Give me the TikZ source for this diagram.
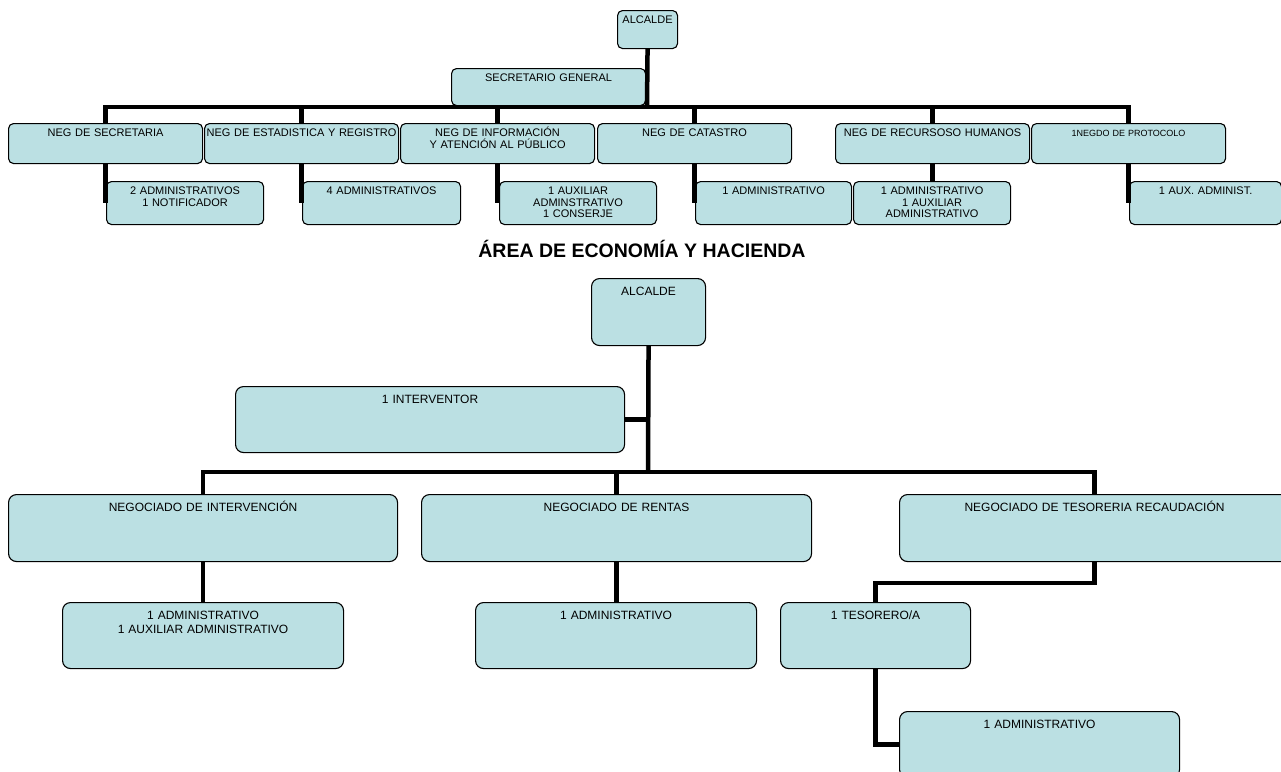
\documentclass[tikz,border=0pt]{standalone}
\usepackage{fontspec}
\setmainfont{Liberation Sans}
\definecolor{celeste}{RGB}{187,224,227}

\begin{document}
\begin{tikzpicture}[x=1pt,y=-1pt,
  unit/.style 2 args={draw,line width=1.1pt,fill=celeste,rounded corners=5pt,
    anchor=north west,align=center,inner xsep=1pt,inner ysep=4pt,
    text width={#1pt-2pt},text height=9pt,text depth={#2pt-17pt},
    font=\fontsize{11}{11.7}\selectfont},
  bigunit/.style 2 args={unit={#1}{#2},rounded corners=8pt,inner ysep=7pt,
    text height=10pt,text depth={#2pt-24pt},font=\fontsize{12}{14}\selectfont},
  wire/.style={line width=4.5pt}]
  \clip (0,0) rectangle (1281,771);

  \node[unit={60}{38}] (alc1) at (617,10) {ALCALDE};
  \node[unit={194}{37}] (sec) at (451,68) {SECRETARIO GENERAL};
  \node[unit={194}{40}] (nsec) at (8,123) {NEG DE SECRETARIA};
  \node[unit={194}{40}] (nest) at (204,123) {NEG DE ESTADISTICA Y REGISTRO};
  \node[unit={194}{40}] (ninf) at (400,123) {NEG DE INFORMACIÓN\\Y ATENCIÓN AL PÚBLICO};
  \node[unit={194}{40}] (ncat) at (597,123) {NEG DE CATASTRO};
  \node[unit={194}{40}] (nrrhh) at (835,123) {NEG DE RECURSOSO HUMANOS};
  \node[unit={194}{40},font=\fontsize{9}{10}\selectfont] (nprot) at (1031,123) {1NEGDO DE PROTOCOLO};
  \node[unit={157}{43}] (ssec) at (106,181) {2 ADMINISTRATIVOS\\1 NOTIFICADOR};
  \node[unit={158}{43}] (sest) at (302,181) {4 ADMINISTRATIVOS};
  \node[unit={157}{43}] (sinf) at (499,181) {1 AUXILIAR\\ADMINSTRATIVO\\1 CONSERJE};
  \node[unit={156}{43}] (scat) at (695,181) {1 ADMINISTRATIVO};
  \node[unit={157}{43}] (srrhh) at (853,181) {1 ADMINISTRATIVO\\1 AUXILIAR\\ADMINISTRATIVO};
  \node[unit={152}{43}] (sprot) at (1129,181) {1 AUX. ADMINIST.};
  \coordinate (bus1) at (647,107);

  \draw[wire] (alc1.south) -- (bus1);
  \draw[wire] (nsec.north) |- (bus1) -| (nprot.north);
  \foreach \n in {nest,ninf,ncat,nrrhh}
    \draw[wire] (\n.north) -- (\n.north |- bus1);
  \foreach \n/\s in {nsec/ssec,nest/sest,ninf/sinf,ncat/scat,nprot/sprot}
    \draw[wire] (\n.south) -- (\n.south |- \s.west);
  \draw[wire] (nrrhh.south) -- (nrrhh.south |- srrhh.north);

  \node[font=\bfseries\fontsize{19.5}{22}\selectfont,anchor=base] (area) at (642,257) {ÁREA DE ECONOMÍA Y HACIENDA};

  \node[bigunit={114}{67}] (alc2) at (591,278) {ALCALDE};
  \node[bigunit={389}{66}] (intv) at (235,386) {1 INTERVENTOR};
  \node[bigunit={389}{67}] (nint) at (8,494) {NEGOCIADO DE INTERVENCIÓN};
  \node[bigunit={390}{67}] (nren) at (421,494) {NEGOCIADO DE RENTAS};
  \node[bigunit={390}{67}] (ntes) at (899,494) {NEGOCIADO DE TESORERIA RECAUDACIÓN};
  \node[bigunit={281}{66}] (sint) at (62,602) {1 ADMINISTRATIVO\\1 AUXILIAR ADMINISTRATIVO};
  \node[bigunit={281}{66}] (sren) at (475,602) {1 ADMINISTRATIVO};
  \node[bigunit={190}{66}] (stes) at (780,602) {1 TESORERO/A};
  \node[bigunit={280}{66}] (sadm) at (899,711) {1 ADMINISTRATIVO};
  \coordinate (bus2) at (648,472);

  \draw[wire] (alc2.south) -- (bus2);
  \draw[wire] (intv.east) -- (intv.east -| bus2);
  \draw[wire] (nint.north) |- (bus2) -| (ntes.north);
  \draw[wire] (nren.north) -- (nren.north |- bus2);
  \draw[wire] (nint.south) -- (nint.south |- sint.north);
  \draw[wire] (nren.south) -- (nren.south |- sren.north);
  \draw[wire] (ntes.south) -- ++(0,21) -| (stes.north);
  \draw[wire] (stes.south) |- (sadm.west);
\end{tikzpicture}
\end{document}
